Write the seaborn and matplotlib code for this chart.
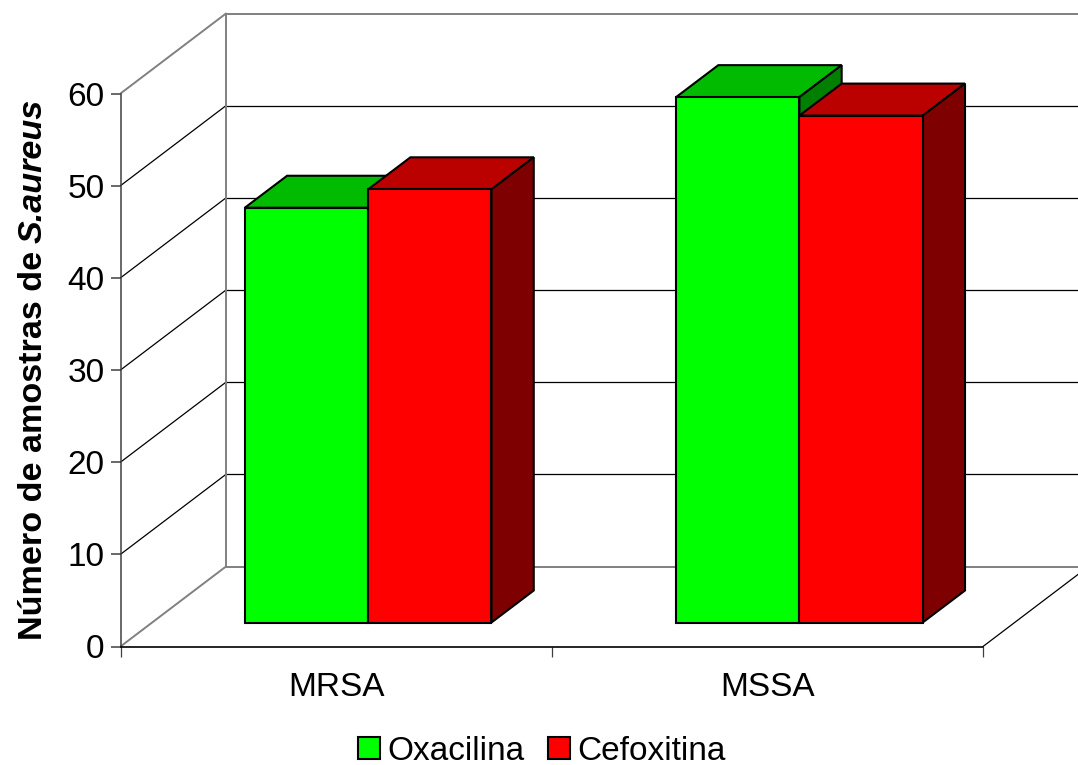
import pandas as pd
import seaborn as sns
import matplotlib
matplotlib.use('Agg')
import matplotlib.pyplot as plt
from matplotlib.patches import Polygon

grupos = ['MRSA', 'MSSA']
oxacilina = [45, 57]
cefoxitina = [47, 55]
y_ticks = [0, 10, 20, 30, 40, 50, 60]

sns.set_style('white')
plt.rcParams['font.family'] = ['Liberation Sans', 'DejaVu Sans']

df = pd.DataFrame({
    'grupo': grupos * 2,
    'antibiotico': ['Oxacilina'] * 2 + ['Cefoxitina'] * 2,
    'n': oxacilina + cefoxitina,
})

W, H = 1078, 765
fig = plt.figure(figsize=(W / 100, H / 100), dpi=100)
ax = fig.add_axes([120.5 / W, (H - 646.5) / H, 862.5 / W, 553 / H])

sns.barplot(data=df, x='grupo', y='n', hue='antibiotico',
            palette={'Oxacilina': '#00FF00', 'Cefoxitina': '#FF0000'},
            width=0.572, edgecolor='black', linewidth=1.5, saturation=1, ax=ax)
ax.set_xlim(-0.5, 1.5)
ax.set_ylim(0, 60)

# fake 3D: everything in data units, wall / bar offsets
px_x = 2 / 862.5
px_y = 60 / 553
wall_dx, wall_dy = 105.5 * px_x, 80 * px_y
shift_dx, shift_dy = 32 * px_x, 24 * px_y
depth_dx, depth_dy = 42.3 * px_x, 32 * px_y
right_end = 1.5 + wall_dx

GRAY = '#808080'
for t in y_ticks:
    col = GRAY if t in (0, 60) else 'black'
    lw = 1.4 if t in (0, 60) else 0.9
    ax.plot([-0.5, -0.5 + wall_dx], [t, t + wall_dy], color=col, lw=lw, clip_on=False, zorder=1)
    ax.plot([-0.5 + wall_dx, right_end], [t + wall_dy] * 2, color=col, lw=lw, clip_on=False, zorder=1)
ax.plot([-0.5 + wall_dx] * 2, [wall_dy, 60 + wall_dy], color=GRAY, lw=1.4, clip_on=False, zorder=1)
ax.plot([1.5, right_end], [0, wall_dy], color='black', lw=0.9, clip_on=False, zorder=1)

tops = {'#00FF00': '#00BB00', '#FF0000': '#BB0000'}
sides = {'#00FF00': '#007F00', '#FF0000': '#7F0000'}
z = 3
for cont, cor in zip(ax.containers, ['#00FF00', '#FF0000']):
    for bar in cont:
        bar.set_x(bar.get_x() + shift_dx)
        bar.set_y(shift_dy)
        bar.set_clip_on(False)
        bar.set_joinstyle('miter')
        bar.set_zorder(z + 1)
        x0, x1 = bar.get_x(), bar.get_x() + bar.get_width()
        y0, y1 = bar.get_y(), bar.get_y() + bar.get_height()
        ax.add_patch(Polygon([(x0, y1), (x1, y1), (x1 + depth_dx, y1 + depth_dy), (x0 + depth_dx, y1 + depth_dy)],
                             facecolor=tops[cor], edgecolor='black', lw=1.5, clip_on=False, zorder=z))
        ax.add_patch(Polygon([(x1, y0), (x1 + depth_dx, y0 + depth_dy), (x1 + depth_dx, y1 + depth_dy), (x1, y1)],
                             facecolor=sides[cor], edgecolor='black', lw=1.5, clip_on=False, zorder=z))
    z += 2

for s in ['top', 'right']:
    ax.spines[s].set_visible(False)
ax.spines['left'].set_color('#404040')
ax.spines['left'].set_linewidth(1.1)
ax.spines['bottom'].set_color('black')
ax.spines['bottom'].set_linewidth(1.2)
for s in ax.spines.values():
    s.set_zorder(2)

ax.set_yticks(y_ticks)
ax.set_xticks([-0.5, 0.5, 1.5], minor=True)
ax.tick_params(axis='x', which='major', length=0, labelsize=24, pad=18, colors='black')
ax.tick_params(axis='x', which='minor', length=7.5, width=0.9, color='#404040', bottom=True)
ax.tick_params(axis='y', length=7.5, width=1.1, color='#404040', labelsize=24, pad=4, left=True, labelcolor='black')

# label in two runs, the species name is bold italic
ax.set_xlabel('')
ylab = ax.set_ylabel('Número de amostras de', fontsize=24.6, fontweight='bold', color='black', ha='left')
ax.yaxis.set_label_coords((49 - 120.5) / 862.5, (646.5 - 640) / 553)
ax.annotate('S.aureus', xy=(0.5, 1), xycoords=ylab, xytext=(0, 5.5), textcoords='offset points',
            rotation=90, rotation_mode='anchor', ha='left', va='center',
            fontsize=24.6, fontweight='bold', fontstyle='italic', color='black')

sns.move_legend(ax, loc='center', bbox_to_anchor=((542 - 120.5) / 862.5, (646.5 - 751) / 553),
                ncol=2, frameon=False, title=None, fontsize=24, borderpad=0, handlelength=0.66,
                handleheight=0.66, handletextpad=0.22, columnspacing=0.72, labelcolor='black')

fig.savefig('out.png', dpi=100)
